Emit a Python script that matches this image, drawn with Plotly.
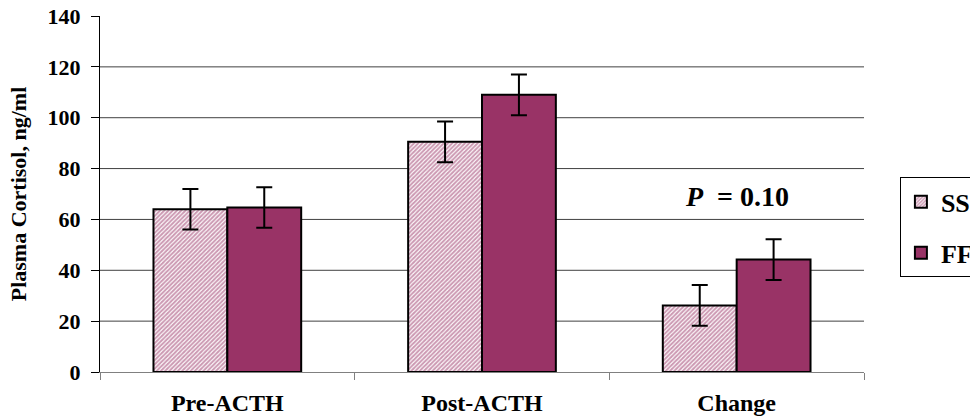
import plotly.graph_objects as go

categories = ["Pre-ACTH", "Post-ACTH", "Change"]
ss_values = [64, 90.5, 26.2]
ss_errors = [8, 8, 8]
ff_values = [64.7, 109, 44.2]
ff_errors = [8, 8, 8]
y_ticks = [0, 20, 40, 60, 80, 100, 120, 140]
grid_values = [20, 40, 60, 80, 100, 120]

FONT = "Liberation Serif"
PURPLE = "#993366"

fig = go.Figure()
fig.add_trace(go.Bar(
    name="SS", x=categories, y=ss_values, legendgroup="ss",
    marker=dict(
        color=PURPLE,
        pattern=dict(shape="/", fgcolor=PURPLE, bgcolor="white", size=3, solidity=0.65),
        line=dict(color="black", width=2),
    ),
    error_y=dict(type="data", array=ss_errors, color="black", thickness=2, width=8),
))
fig.add_trace(go.Bar(
    name="FF", x=categories, y=ff_values, legendgroup="ff",
    marker=dict(color=PURPLE, line=dict(color="black", width=2)),
    error_y=dict(type="data", array=ff_errors, color="black", thickness=2, width=8),
))

for g in grid_values:
    fig.add_shape(type="line", xref="paper", x0=0, x1=1, yref="y", y0=g, y1=g,
                  line=dict(color="#404040", width=1), layer="below")

fig.add_annotation(
    x=2, y=69, xref="x", yref="y",
    text="<b><i>P</i>  = 0.10</b>", showarrow=False,
    font=dict(family=FONT, size=28, color="black"),
)

fig.update_layout(
    width=970, height=420,
    margin=dict(l=100, r=106, t=16, b=48, autoexpand=False),
    paper_bgcolor="white", plot_bgcolor="white",
    barmode="group", bargap=0.42, bargroupgap=0,
    font=dict(family=FONT, color="black"),
    legend=dict(
        x=1.047, y=0.406, xanchor="left", yanchor="middle",
        bordercolor="black", borderwidth=1,
        font=dict(family=FONT, size=26, color="black", weight="bold"),
        itemwidth=30, traceorder="grouped", tracegroupgap=14,
    ),
    showlegend=True,
)
fig.update_xaxes(
    showline=True, linecolor="#808080", linewidth=1,
    ticks="outside", ticklen=7, tickcolor="#808080", tickson="boundaries",
    tickfont=dict(family=FONT, size=24, color="black", weight="bold"),
    ticklabelstandoff=9, automargin=False,
    showgrid=False,
)
fig.update_yaxes(
    range=[0, 140], tickvals=y_ticks,
    showline=True, linecolor="black", linewidth=1,
    ticks="outside", ticklen=8, tickcolor="black",
    tickfont=dict(family=FONT, size=22, color="black", weight="bold"),
    ticklabelstandoff=6,
    showgrid=False, zeroline=False, automargin=False,
    title=dict(text="Plasma Cortisol, ng/ml",
               font=dict(family=FONT, size=22, color="black", weight="bold"),
               standoff=14),
)

fig.write_html("out.html", config={"displayModeBar": False},
               post_script="document.body.style.margin='0';")
